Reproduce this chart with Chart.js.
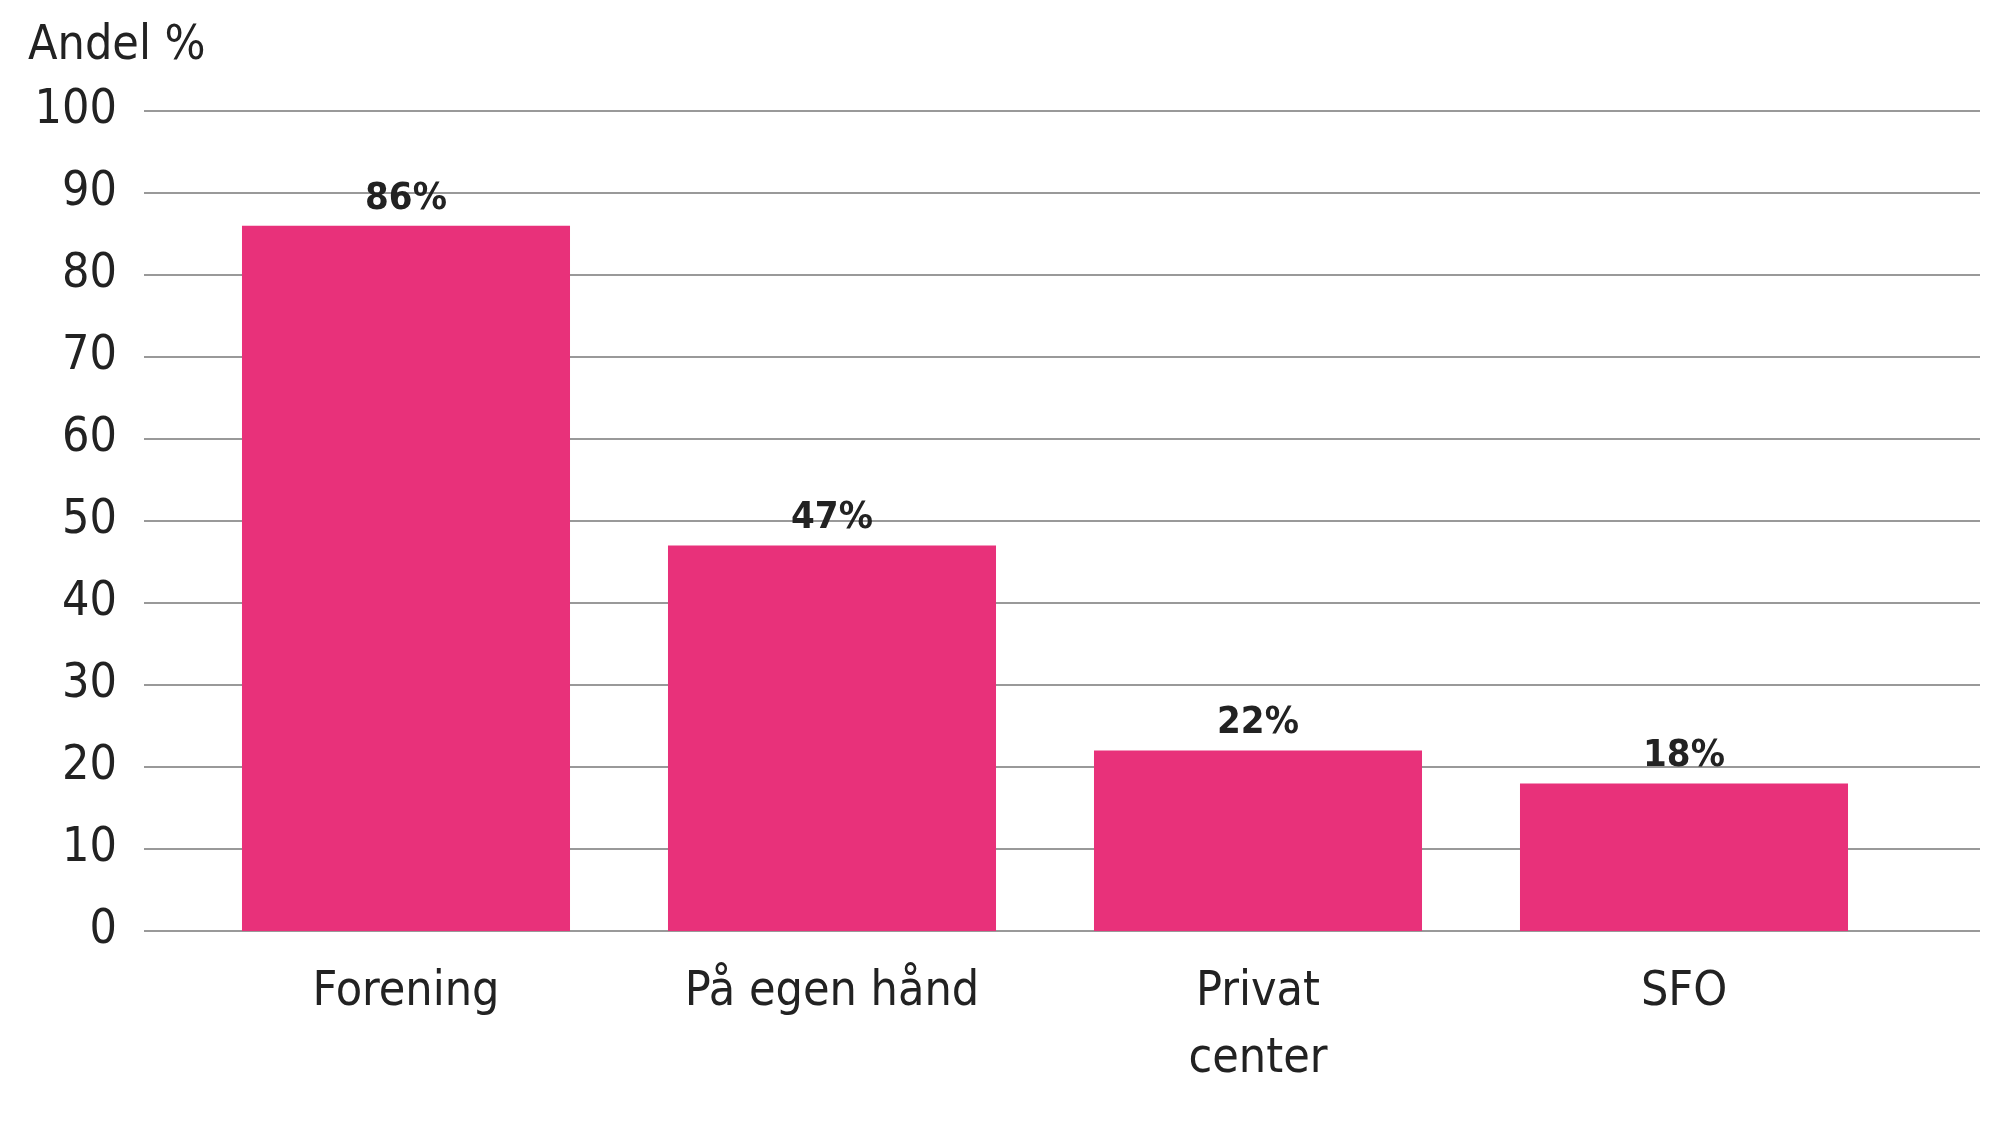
<!DOCTYPE html>
<html><head><meta charset="utf-8">
<script src="https://cdn.jsdelivr.net/npm/chart.js@4/dist/chart.umd.min.js"></script>
<style>html,body{margin:0;background:#fff}canvas{display:block}</style>
</head><body>
<canvas id="c" width="2000" height="1129"></canvas>
<script>
// Data
const kategorier = ['Forening', 'På egen hånd', ['Privat', 'center'], 'SFO'];
const andel = [86, 47, 22, 18];
const etiketter = ['86%', '47%', '22%', '18%'];
const FONT = "'DejaVu Sans Condensed', 'Liberation Sans Narrow', sans-serif";

// gridlines run wider than the bar area, so draw them here
const gridPlugin = {
    id: 'grid',
    beforeDatasetsDraw(chart) {
        const ctx = chart.ctx, y = chart.scales.y;
        ctx.save();
        ctx.strokeStyle = '#999';
        ctx.lineWidth = 2;
        y.ticks.forEach(t => {
            const py = Math.round(y.getPixelForValue(t.value));
            ctx.beginPath();
            ctx.moveTo(144, py);
            ctx.lineTo(1980, py);
            ctx.stroke();
        });
        ctx.restore();
    }
};

const labelPlugin = {
    id: 'labels',
    afterDatasetsDraw(chart) {
        const ctx = chart.ctx;
        ctx.save();
        ctx.fillStyle = '#222';
        ctx.font = 'bold 38px ' + FONT;
        ctx.textAlign = 'center';
        ctx.textBaseline = 'bottom';
        chart.getDatasetMeta(0).data.forEach((bar, i) => {
            ctx.fillText(etiketter[i], bar.x, bar.y - 8);
        });
        ctx.font = '48px ' + FONT;
        ctx.textAlign = 'left';
        ctx.textBaseline = 'middle';
        ctx.fillText('Andel %', 28, 47);
        ctx.restore();
    }
};

new Chart(document.getElementById('c'), {
    type: 'bar',
    data: {
        labels: kategorier,
        datasets: [{
            data: andel,
            backgroundColor: '#E8317A',
            categoryPercentage: 0.77,
            barPercentage: 1
        }]
    },
    options: {
        responsive: false,
        animation: false,
        layout: { padding: { top: 111, right: 103, left: 0, bottom: 0 } },
        plugins: { legend: { display: false }, tooltip: { enabled: false } },
        scales: {
            y: {
                min: 0, max: 100,
                ticks: { stepSize: 10, color: '#222', font: { family: FONT, size: 48 }, padding: 68 },
                grid: { display: false },
                border: { display: false },
                afterFit(s) { s.width = 193; }
            },
            x: {
                ticks: { color: '#222', font: { family: FONT, size: 48, lineHeight: 1.4 }, padding: 20 },
                grid: { display: false },
                border: { display: false },
                afterFit(s) { s.height = 198; }
            }
        }
    },
    plugins: [gridPlugin, labelPlugin]
});
</script>
</body></html>
